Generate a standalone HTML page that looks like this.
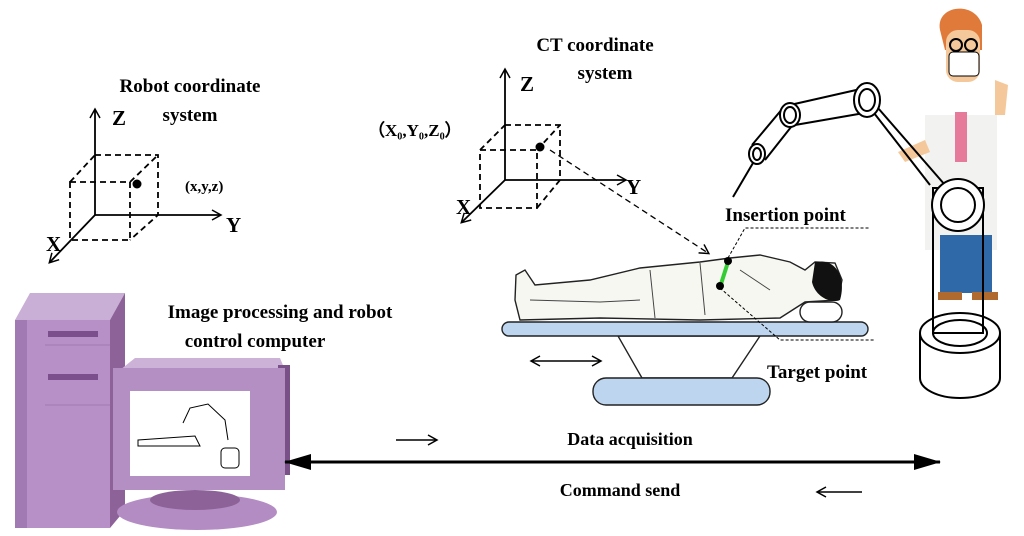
<!DOCTYPE html>
<html><head><style>
body{margin:0;background:#fff}
svg{display:block}
text{font-family:"Liberation Serif",serif;font-weight:bold;fill:#000}
</style></head><body>
<svg width="1024" height="536" viewBox="0 0 1024 536" xmlns="http://www.w3.org/2000/svg">
<defs>
<marker id="ar" markerWidth="12" markerHeight="12" refX="9" refY="6" orient="auto-start-reverse" markerUnits="userSpaceOnUse"><path d="M1,1 L10,6 L1,11" fill="none" stroke="#000" stroke-width="1.5"/></marker>
<marker id="big" markerWidth="28" markerHeight="20" refX="26" refY="10" orient="auto-start-reverse" markerUnits="userSpaceOnUse"><path d="M0,2 L27,10 L0,18 Z" fill="#000"/></marker>
</defs>
<!-- Robot coordinate -->
<text x="190" y="92" font-size="19" text-anchor="middle">Robot coordinate</text>
<text x="190" y="121" font-size="19" text-anchor="middle">system</text>
<g stroke="#000" stroke-width="1.8" fill="none">
<line x1="95" y1="215" x2="95" y2="110" marker-end="url(#ar)"/>
<line x1="95" y1="215" x2="220" y2="215" marker-end="url(#ar)"/>
<line x1="95" y1="215" x2="50" y2="262" marker-end="url(#ar)"/>
<g stroke-dasharray="6,4">
<rect x="70" y="182" width="60" height="58"/>
<polyline points="95,155 158,155 158,215 130,240"/>
<line x1="70" y1="182" x2="95" y2="155"/><line x1="130" y1="182" x2="158" y2="155"/>
</g></g>
<circle cx="137" cy="184" r="4.5"/>
<text x="112" y="125" font-size="21">Z</text>
<text x="226" y="232" font-size="21">Y</text>
<text x="46" y="251" font-size="21">X</text>
<text x="185" y="191" font-size="15">(x,y,z)</text>
<!-- CT -->
<text x="595" y="51" font-size="19" text-anchor="middle">CT coordinate</text>
<text x="605" y="79" font-size="19" text-anchor="middle">system</text>
<g stroke="#000" stroke-width="1.8" fill="none">
<line x1="505" y1="180" x2="505" y2="70" marker-end="url(#ar)"/>
<line x1="505" y1="180" x2="625" y2="180" marker-end="url(#ar)"/>
<line x1="505" y1="180" x2="462" y2="222" marker-end="url(#ar)"/>
<g stroke-dasharray="6,4">
<rect x="480" y="150" width="57" height="58"/>
<polyline points="505,125 560,125 560,180 537,208"/>
<line x1="480" y1="150" x2="505" y2="125"/><line x1="537" y1="150" x2="560" y2="125"/>
<line x1="550" y1="150" x2="708" y2="253" marker-end="url(#ar)" stroke-width="1.3"/>
</g></g>
<circle cx="540" cy="147" r="4.5"/>
<text x="520" y="91" font-size="21">Z</text>
<text x="626" y="194" font-size="21">Y</text>
<text x="456" y="214" font-size="21">X</text>
<text x="368" y="136" font-size="17">（X₀,Y₀,Z₀）</text>
<!-- patient table -->
<g stroke="#222" stroke-width="1.4">
<path d="M618,336 L760,336 L732,378 L642,378 Z" fill="#fff"/>
<rect x="502" y="322" width="366" height="14" rx="7" fill="#bdd5ee"/>
<rect x="593" y="378" width="177" height="27" rx="13" fill="#bdd5ee"/>
<rect x="800" y="302" width="42" height="20" rx="10" fill="#fff"/>
<path d="M516,275 L525,270 L535,285 L590,280 L640,268 L700,262 L730,258 L760,255 L790,262 L805,270 L815,262 L835,263 L842,280 L838,300 L805,302 L780,318 L700,320 L600,318 L520,320 L515,300 Z" fill="#f7f7f2"/>
</g>
<path d="M815,262 C838,258 846,280 840,300 C830,304 815,296 812,282 Z" fill="#111"/>
<g stroke="#444" stroke-width="1" fill="none">
<path d="M530,300 L600,302 L640,300 M650,270 L655,318 M700,263 L705,315 M740,270 L770,290"/>
</g>
<line x1="532" y1="361" x2="600" y2="361" stroke="#000" stroke-width="1.5" marker-end="url(#ar)" marker-start="url(#ar)"/>
<line x1="728" y1="262" x2="721" y2="284" stroke="#3c3" stroke-width="4"/>
<circle cx="728" cy="261" r="4"/><circle cx="720" cy="286" r="4"/>
<g stroke="#000" stroke-width="1" stroke-dasharray="3,2" fill="none">
<polyline points="728,258 745,228 870,228"/>
<polyline points="720,288 780,340 875,340"/>
</g>
<text x="725" y="221" font-size="19">Insertion point</text>
<text x="767" y="378" font-size="19">Target point</text>
<!-- doctor -->
<g>
<rect x="925" y="115" width="72" height="135" fill="#f2f2f0"/>
<path d="M940,30 C935,5 975,0 982,25 L982,50 L945,50 Z" fill="#e07a3a"/>
<rect x="946" y="30" width="34" height="52" rx="12" fill="#f4c89a"/>
<rect x="949" y="52" width="30" height="24" rx="4" fill="#fff" stroke="#000"/>
<circle cx="956" cy="45" r="6" fill="none" stroke="#000" stroke-width="2"/><circle cx="971" cy="45" r="6" fill="none" stroke="#000" stroke-width="2"/>
<rect x="955" y="112" width="12" height="50" fill="#e57a9a"/>
<rect x="940" y="235" width="52" height="58" fill="#2f69a8"/>
<rect x="938" y="292" width="24" height="8" fill="#b06a30"/><rect x="972" y="292" width="26" height="8" fill="#b06a30"/>
<path d="M898,152 L925,140 L930,152 L905,162 Z" fill="#f4c89a"/>
<path d="M995,80 L1008,85 L1005,115 L995,115 Z" fill="#f4c89a"/>
</g>
<!-- robot arm -->
<g stroke="#000" stroke-width="2" fill="none">
<path d="M860,95 L930,185 M878,108 L945,185"/>
<rect x="933" y="188" width="50" height="145"/>
<circle cx="958" cy="205" r="26" fill="#fff"/><circle cx="958" cy="205" r="17"/>
<path d="M920,333 L920,378 A40,20 0 0 0 1000,378 L1000,333"/>
<ellipse cx="960" cy="333" rx="40" ry="20" fill="none"/>
<ellipse cx="960" cy="333" rx="27" ry="13"/>
<path d="M790,105 L865,88 M795,125 L870,112"/>
<ellipse cx="867" cy="100" rx="13" ry="17" fill="#fff"/><ellipse cx="867" cy="100" rx="8" ry="11"/>
<path d="M783,108 L752,145 M795,122 L765,160"/>
<ellipse cx="790" cy="115" rx="10" ry="12" fill="#fff"/><ellipse cx="790" cy="115" rx="6" ry="8"/>
<ellipse cx="757" cy="154" rx="8" ry="10" fill="#fff"/><ellipse cx="757" cy="154" rx="4" ry="6"/>
<line x1="753" y1="163" x2="733" y2="197"/>
</g>
<!-- computer -->
<g>
<path d="M15,320 L30,293 L125,293 L110,320 Z" fill="#c9aed6"/>
<rect x="15" y="320" width="95" height="208" fill="#b690c6"/>
<rect x="15" y="320" width="12" height="208" fill="#a27ab3"/>
<rect x="48" y="331" width="50" height="6" fill="#7b4f8c"/>
<rect x="48" y="374" width="50" height="6" fill="#7b4f8c"/>
<line x1="45" y1="345" x2="110" y2="345" stroke="#a07ab2"/>
<line x1="45" y1="405" x2="110" y2="405" stroke="#a07ab2"/>
<path d="M110,320 L125,293 L125,510 L110,528 Z" fill="#8d6299"/>
<ellipse cx="197" cy="512" rx="80" ry="18" fill="#b48cc4"/>
<ellipse cx="195" cy="500" rx="45" ry="10" fill="#8d6299"/>
<path d="M120,370 L135,358 L280,358 L285,370 Z" fill="#cdb2d8"/>
<rect x="278" y="365" width="12" height="110" fill="#7a5088"/>
<rect x="113" y="368" width="172" height="122" fill="#b48fc3"/>
<rect x="130" y="391" width="120" height="85" fill="#fff"/>
</g>
<g stroke="#000" stroke-width="1" fill="none">
<path d="M138,440 L195,436 L200,446 L138,446 Z"/>
<path d="M183,423 L190,408 L208,404 L225,420 L228,440"/>
<rect x="221" y="448" width="18" height="20" rx="4"/>
</g>
<text x="280" y="318" font-size="19" text-anchor="middle">Image processing and robot</text>
<text x="255" y="347" font-size="19" text-anchor="middle">control computer</text>
<!-- bottom arrows -->
<line x1="285" y1="462" x2="940" y2="462" stroke="#000" stroke-width="3" marker-end="url(#big)" marker-start="url(#big)"/>
<text x="630" y="445" font-size="18" text-anchor="middle">Data acquisition</text>
<text x="620" y="496" font-size="18" text-anchor="middle">Command send</text>
<line x1="396" y1="440" x2="436" y2="440" stroke="#000" stroke-width="1.5" marker-end="url(#ar)"/>
<line x1="862" y1="492" x2="818" y2="492" stroke="#000" stroke-width="1.5" marker-end="url(#ar)"/>
</svg>
</body></html>
